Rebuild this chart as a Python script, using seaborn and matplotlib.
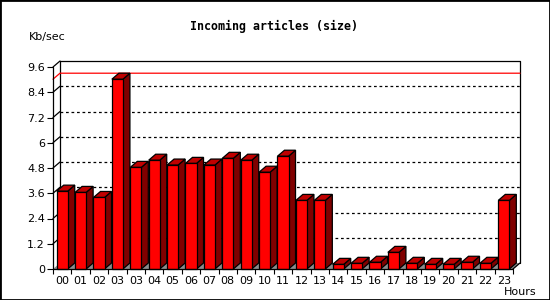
import numpy as np
import pandas as pd
import matplotlib
matplotlib.use("Agg")
import matplotlib.pyplot as plt
import seaborn as sns
from matplotlib.patches import Polygon, Rectangle

hours = ["00", "01", "02", "03", "03", "04", "05", "06", "07", "08", "09", "10",
         "11", "12", "13", "14", "15", "16", "17", "18", "19", "20", "21", "22", "23"]
kb_sec = [3.70, 3.64, 3.40, 9.02, 4.83, 5.17, 4.94, 5.02, 4.94, 5.26, 5.17, 4.60,
          5.36, 3.26, 3.26, 0.22, 0.27, 0.32, 0.79, 0.27, 0.22, 0.22, 0.32, 0.27, 3.26]
y_ticks = [0, 1.2, 2.4, 3.6, 4.8, 6, 7.2, 8.4, 9.6]
y_tick_labels = ["0", "1.2", "2.4", "3.6", "4.8", "6", "7.2", "8.4", "9.6"]

sns.set_style("white")
plt.rcParams["font.family"] = ["DejaVu Sans"]
plt.rcParams["text.color"] = "black"
plt.rcParams["xtick.color"] = "black"
plt.rcParams["ytick.color"] = "black"

W, H, DPI = 550, 300, 100
fig = plt.figure(figsize=(W / DPI, H / DPI), dpi=DPI)
fig.patch.set_facecolor("white")

# front frame in pixels
fx0, fx1, fy_top, fy_bot = 53, 513, 67, 269
ax = fig.add_axes([fx0 / W, (H - fy_bot) / H, (fx1 - fx0) / W, (fy_bot - fy_top) / H])
ax.set_facecolor("none")

n = len(hours)
df = pd.DataFrame({"slot": np.arange(n), "value": kb_sec})
sns.barplot(data=df, x="slot", y="value", width=0.6, color="#ff0000",
            edgecolor="black", linewidth=0.9, saturation=1, ax=ax, zorder=3)

ymax = y_ticks[-1]
ax.set_xlim(-0.5, n - 0.5)
ax.set_ylim(0, ymax)

# 3D depth offset (pixels -> data units)
px_x = n / (fx1 - fx0)
px_y = ymax / (fy_bot - fy_top)
dx = 7 * px_x
dy = 6 * px_y
x0, x1 = -0.5, n - 0.5

# back wall frame
ax.plot([x0 + dx, x0 + dx, x1 + dx, x1 + dx], [dy, ymax + dy, ymax + dy, dy],
        color="black", lw=0.9, clip_on=False, zorder=1)
ax.plot([x0, x0 + dx], [ymax, ymax + dy], color="black", lw=0.9, clip_on=False, zorder=1)
# grid lines on back wall + diagonal connectors
for t in y_ticks[1:-1]:
    ax.plot([x0 + dx, x1 + dx], [t + dy, t + dy], color="black", lw=0.9,
            linestyle=(0, (2.2, 2.2)), clip_on=False, zorder=1)
    ax.plot([x0, x0 + dx], [t, t + dy], color="black", lw=0.9, clip_on=False, zorder=1)

# max line (red)
mx = max(kb_sec)
ax.plot([x0, x0 + dx, x1 + dx], [mx, mx + dy, mx + dy], color="#ff0000", lw=0.9,
        clip_on=False, zorder=1.5)

# floor
floor = Polygon([(x0, 0), (x1, 0), (x1 + dx, dy), (x0 + dx, dy)], closed=True,
                facecolor="#8c8c8c", edgecolor="none", zorder=2, clip_on=False)
ax.add_patch(floor)

# 3D side/top faces derived from the seaborn bars
for p in list(ax.patches):
    if not isinstance(p, Rectangle):
        continue
    L = p.get_x()
    R = L + p.get_width()
    h = p.get_height()
    side = Polygon([(R, 0), (R + dx, dy), (R + dx, h + dy), (R, h)], closed=True,
                   facecolor="#800000", edgecolor="black", lw=0.9, zorder=3,
                   clip_on=False)
    top = Polygon([(L, h), (L + dx, h + dy), (R + dx, h + dy), (R, h)], closed=True,
                  facecolor="#c00000", edgecolor="black", lw=0.9, zorder=3,
                  clip_on=False)
    ax.add_patch(side)
    ax.add_patch(top)
    p.set_clip_on(False)
    p.set_zorder(3.5)

# front axes lines
for s in ax.spines.values():
    s.set_visible(False)
ax.plot([x0, x0], [0, ymax], color="black", lw=0.9, clip_on=False, zorder=5)
ax.plot([x0, x1], [0, 0], color="black", lw=0.9, clip_on=False, zorder=5)
ax.plot([x1, x1 + dx], [0, dy], color="black", lw=0.9, clip_on=False, zorder=5)

# ticks
ax.set_yticks(y_ticks)
ax.set_yticklabels(y_tick_labels)
ax.set_xticks(np.arange(n))
ax.set_xticklabels(hours)
ax.set_xticks(np.arange(n + 1) - 0.5, minor=True)
ax.tick_params(axis="y", which="major", left=True, length=4.3, width=0.8,
               direction="out", pad=1.5, labelsize=8, colors="black")
ax.tick_params(axis="x", which="major", bottom=False, length=0, pad=5,
               labelsize=8, colors="black")
ax.tick_params(axis="x", which="minor", bottom=True, length=3.8, width=0.8,
               direction="out", color="black")
ax.set_xlabel("")
ax.set_ylabel("")

# texts
fig.text(274 / W, 1 - 26 / H, "Incoming articles (size)", ha="center", va="center",
         fontsize=8.4, fontweight="bold", family=["DejaVu Sans Mono"], color="black")
fig.text(29 / W, 1 - 37 / H, "Kb/sec", ha="left", va="center", fontsize=8, color="black")
fig.text(504 / W, 1 - 292 / H, "Hours", ha="left", va="center", fontsize=8, color="black")

# outer border
fig.patches.append(Rectangle((0, 0), 1, 1, transform=fig.transFigure, fill=False,
                             edgecolor="black", lw=2, zorder=10))

fig.savefig("out.png", dpi=DPI)
